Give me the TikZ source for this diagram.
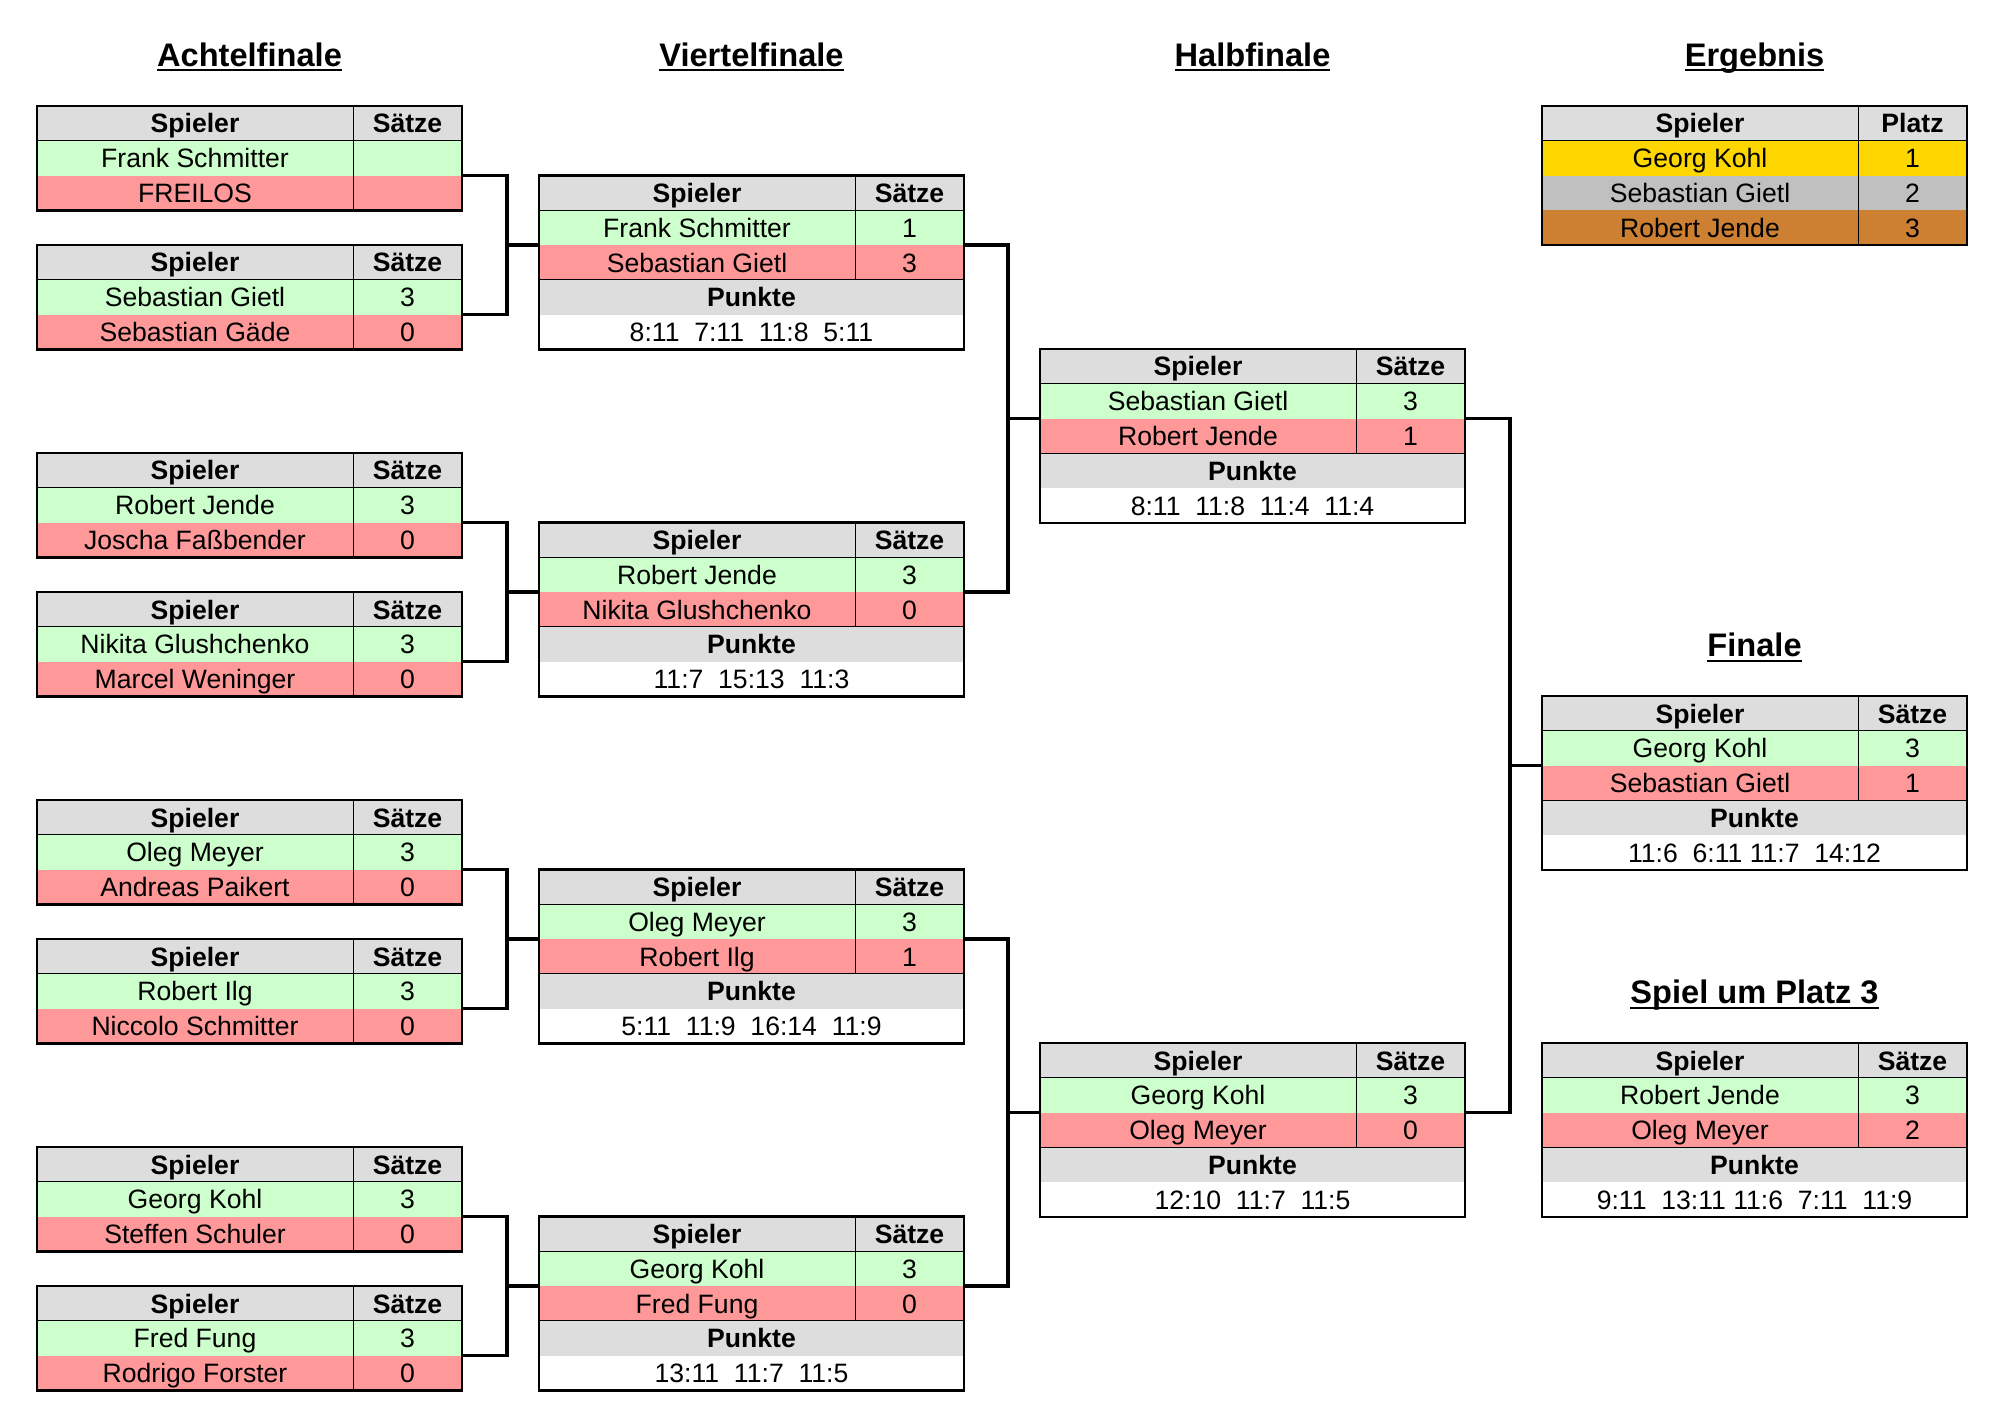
\documentclass[tikz,border=0pt]{standalone}
\usepackage{fontspec}
\setmainfont{Liberation Sans}
\usetikzlibrary{calc}

\definecolor{kopfgrau}{HTML}{DDDDDD}
\definecolor{siegergruen}{HTML}{CCFFCC}
\definecolor{verliererrot}{HTML}{FF9999}
\definecolor{platzgold}{HTML}{FFD700}
\definecolor{platzsilber}{HTML}{C0C0C0}
\definecolor{platzbronze}{HTML}{CD7F32}

\newcommand{\strich}[1]{\setbox0\hbox{#1}\rlap{\vrule height -1.4pt depth 2.4pt width \wd0}\box0}

\tikzset{
  zelle/.style={inner sep=0pt, outer sep=0pt, minimum height=17.4pt, text height=9.6pt, text depth=0pt,
    font=\fontsize{13.3}{16}\selectfont},
  namefeld/.style={zelle, minimum width=158pt},
  satzfeld/.style={zelle, minimum width=54.5pt},
  breitfeld/.style={zelle, minimum width=212.5pt},
  kopf/.style={fill=kopfgrau, font=\fontsize{13.3}{16}\selectfont\bfseries},
  sieger/.style={fill=siegergruen},
  verlierer/.style={fill=verliererrot},
  gitter/.style={line width=0.5pt},
  seite/.style={line width=0.9pt},
  rand/.style={line width=1.3pt, line cap=rect},
  klammer/.style={line width=1.8pt},
  runde/.style={inner sep=0pt, text height=11.7pt, text depth=0pt, font=\fontsize{16.3}{20}\selectfont\bfseries}
}

% #1 Punkte (optional), #2 Name, #3 x, #4 y, #5/#6 Sieger, #7/#8 Verlierer
\newcommand{\spiel}[8][]{%
  \if\relax\detokenize{#1}\relax\def\hoehe{104.4}\else\def\hoehe{174}\fi
  \coordinate (#2) at (#3,#4);
  \node[namefeld, kopf] (#2-kn) at ($(#2)+(158,17.4)$) {Spieler};
  \node[satzfeld, kopf] (#2-ks) at ($(#2)+(370.5,17.4)$) {Sätze};
  \node[namefeld, sieger] (#2-sn) at ($(#2)+(158,52.2)$) {#5};
  \node[satzfeld, sieger] (#2-ss) at ($(#2)+(370.5,52.2)$) {#6};
  \node[namefeld, verlierer] (#2-vn) at ($(#2)+(158,87)$) {#7};
  \node[satzfeld, verlierer] (#2-vs) at ($(#2)+(370.5,87)$) {#8};
  \if\relax\detokenize{#1}\relax\else
    \node[breitfeld, kopf] (#2-pk) at ($(#2)+(212.5,121.8)$) {Punkte};
    \node[breitfeld] (#2-pw) at ($(#2)+(212.5,156.6)$) {#1};
    \draw[gitter] ($(#2)+(0,104.4)$) -- ++(425,0);
  \fi
  \draw[gitter] ($(#2)+(0,34.8)$) -- ++(425,0);
  \draw[gitter] ($(#2)+(316,0)$) -- ++(0,104.4);
  \draw[seite] (#2) -- ++(0,\hoehe);
  \draw[seite] ($(#2)+(425,0)$) -- ++(0,\hoehe);
  \draw[rand] (#2) -- ++(425,0);
  \draw[rand] ($(#2)+(0,\hoehe)$) -- ++(425,0);
  \coordinate (#2-l) at ($(#2)+(0,69.6)$);
  \coordinate (#2-r) at ($(#2)+(425,69.6)$);
}

\begin{document}
\begin{tikzpicture}[x=0.5pt, y=-0.5pt]
    \useasboundingbox (0,0) rectangle (2000,1422);

    % Ueberschriften
    \node[runde] (t-af) at (249.5, 55) {\strich{Achtelfinale}};
    \node[runde] (t-vf) at (751.5, 55) {\strich{Viertelfinale}};
    \node[runde] (t-hf) at (1252.5, 55) {\strich{Halbfinale}};
    \node[runde] (t-erg) at (1754.5, 55) {\strich{Ergebnis}};
    \node[runde] (t-fin) at (1754.5, 645) {\strich{Finale}};
    \node[runde] (t-p3) at (1754.5, 992) {\strich{Spiel um Platz 3}};

    % Achtelfinale
    \spiel{af1}{37}{106}{Frank Schmitter}{}{FREILOS}{}
    \spiel{af2}{37}{245}{Sebastian Gietl}{3}{Sebastian Gäde}{0}
    \spiel{af3}{37}{453}{Robert Jende}{3}{Joscha Faßbender}{0}
    \spiel{af4}{37}{592}{Nikita Glushchenko}{3}{Marcel Weninger}{0}
    \spiel{af5}{37}{800}{Oleg Meyer}{3}{Andreas Paikert}{0}
    \spiel{af6}{37}{939}{Robert Ilg}{3}{Niccolo Schmitter}{0}
    \spiel{af7}{37}{1147}{Georg Kohl}{3}{Steffen Schuler}{0}
    \spiel{af8}{37}{1286}{Fred Fung}{3}{Rodrigo Forster}{0}

    % Viertelfinale
    \spiel[8:11\ \ 7:11\ \ 11:8\ \ 5:11]{vf1}{539}{175.5}{Frank Schmitter}{1}{Sebastian Gietl}{3}
    \spiel[11:7\ \ 15:13\ \ 11:3]{vf2}{539}{522.5}{Robert Jende}{3}{Nikita Glushchenko}{0}
    \spiel[5:11\ \ 11:9\ \ 16:14\ \ 11:9]{vf3}{539}{869.5}{Oleg Meyer}{3}{Robert Ilg}{1}
    \spiel[13:11\ \ 11:7\ \ 11:5]{vf4}{539}{1216.5}{Georg Kohl}{3}{Fred Fung}{0}

    % Halbfinale
    \spiel[8:11\ \ 11:8\ \ 11:4\ \ 11:4]{hf1}{1040}{349}{Sebastian Gietl}{3}{Robert Jende}{1}
    \spiel[12:10\ \ 11:7\ \ 11:5]{hf2}{1040}{1043}{Georg Kohl}{3}{Oleg Meyer}{0}

    % Finale und Platz 3
    \spiel[11:6\ \ 6:11 11:7\ \ 14:12]{fin}{1542}{696}{Georg Kohl}{3}{Sebastian Gietl}{1}
    \spiel[9:11\ \ 13:11 11:6\ \ 7:11\ \ 11:9]{p3}{1542}{1043}{Robert Jende}{3}{Oleg Meyer}{2}

    % Ergebnis
    \coordinate (erg) at (1542,106);
    \node[namefeld, kopf] (erg-kn) at ($(erg)+(158,17.4)$) {Spieler};
    \node[satzfeld, kopf] (erg-kp) at ($(erg)+(370.5,17.4)$) {Platz};
    \node[namefeld, fill=platzgold] (erg-n1) at ($(erg)+(158,52.2)$) {Georg Kohl};
    \node[satzfeld, fill=platzgold] (erg-p1) at ($(erg)+(370.5,52.2)$) {1};
    \node[namefeld, fill=platzsilber] (erg-n2) at ($(erg)+(158,87)$) {Sebastian Gietl};
    \node[satzfeld, fill=platzsilber] (erg-p2) at ($(erg)+(370.5,87)$) {2};
    \node[namefeld, fill=platzbronze] (erg-n3) at ($(erg)+(158,121.8)$) {Robert Jende};
    \node[satzfeld, fill=platzbronze] (erg-p3) at ($(erg)+(370.5,121.8)$) {3};
    \draw[gitter] ($(erg)+(0,34.8)$) -- ++(425,0);
    \draw[gitter] ($(erg)+(316,0)$) -- ++(0,139.2);
    \draw[seite] (erg) -- ++(0,139.2);
    \draw[seite] ($(erg)+(425,0)$) -- ++(0,139.2);
    \draw[rand] (erg) -- ++(425,0);
    \draw[rand] ($(erg)+(0,139.2)$) -- ++(425,0);

    % Klammern
    \foreach \a/\b/\z in {af1/af2/vf1, af3/af4/vf2, af5/af6/vf3, af7/af8/vf4,
                          vf1/vf2/hf1, vf3/vf4/hf2, hf1/hf2/fin} {
        \coordinate (\z-k) at ($(\z-l)+(-32,0)$);
        \draw[klammer] (\a-r) -| (\z-k) |- (\b-r);
        \draw[klammer] (\z-k) -- (\z-l);
    }
\end{tikzpicture}
\end{document}
